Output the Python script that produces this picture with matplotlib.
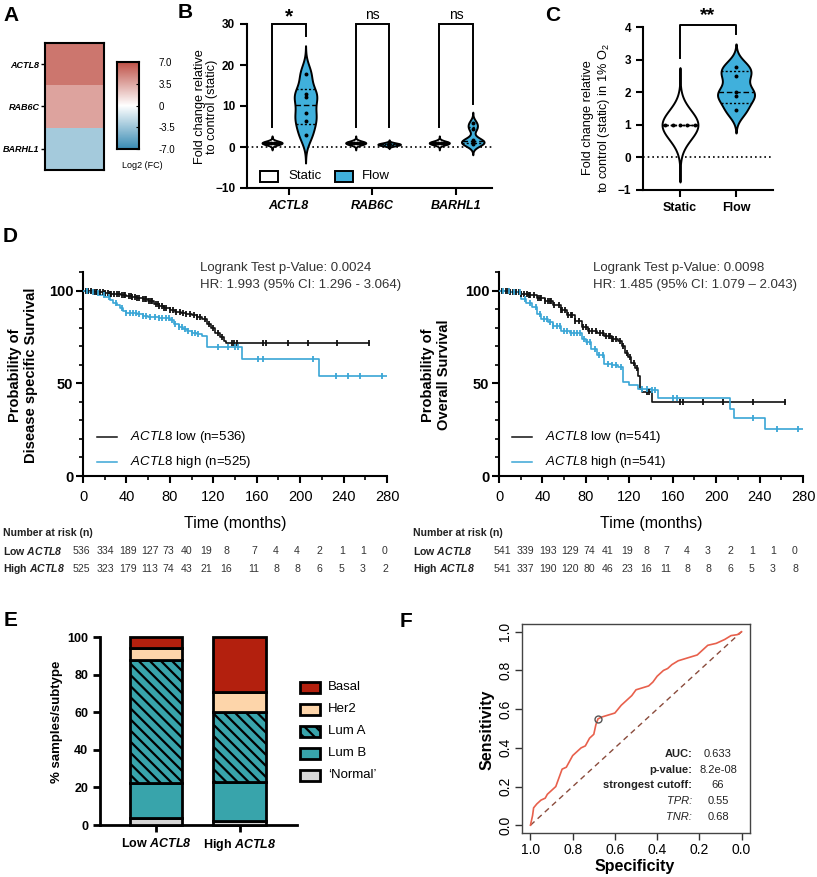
import numpy as np
import matplotlib
matplotlib.use('Agg')
import matplotlib.pyplot as plt
from matplotlib.colors import LinearSegmentedColormap
from matplotlib.patches import Rectangle
from matplotlib.lines import Line2D
from matplotlib.ticker import MultipleLocator, FixedLocator

plt.rcParams['font.family'] = ['Liberation Sans', 'DejaVu Sans']
plt.rcParams['mathtext.fontset'] = 'custom'
plt.rcParams['mathtext.rm'] = 'Liberation Sans'
plt.rcParams['mathtext.it'] = 'Liberation Sans:italic'
plt.rcParams['mathtext.bf'] = 'Liberation Sans:bold'
plt.rcParams['mathtext.bfit'] = 'Liberation Sans:italic:bold'
plt.rcParams['hatch.linewidth'] = 1.6

# ---------------- DATA ----------------
# A: heatmap
heat_genes = ['ACTL8', 'RAB6C', 'BARHL1']
heat_log2fc = [5.5, 3.7, -3.2]
cbar_ticks = [7.0, 3.5, 0.0, -3.5, -7.0]
cbar_labels = ['7.0', '3.5', '0', '-3.5', '-7.0']

# B: violin fold change
b_genes = ['ACTL8', 'RAB6C', 'BARHL1']
b_static_actl8 = [1.0, 1.0, 1.0, 1.0, 1.0, 1.0]
b_static_rab6c = [1.0, 1.0, 1.0, 1.0, 1.0, 1.0]
b_static_barhl1 = [1.0, 1.0, 1.0, 1.0, 1.0, 1.0]
b_flow_actl8 = [3.0, 6.4, 8.3, 12.3, 12.9, 17.8]
b_flow_rab6c = [0.35, 0.5, 0.6, 0.7, 0.8, 1.0]
b_flow_barhl1 = [0.8, 1.0, 1.3, 1.7, 4.5, 5.8]
b_sig = ['*', 'ns', 'ns']

# C: violin hypoxia
c_groups = ['Static', 'Flow']
c_static = [1.0, 1.0, 1.0, 1.0, 1.0]
c_flow = [1.45, 1.88, 2.0, 2.5, 2.78]
c_sig = '**'

# D: Kaplan-Meier (disease specific survival)
dss_low_t = [0, 5, 10, 15, 20, 25, 30, 35, 40, 45, 50, 55, 60, 65, 70, 75, 80, 85, 90, 95,
             100, 105, 110, 114, 118, 122, 126, 130, 132, 263]
dss_low_s = [100, 99.7, 99.3, 99, 98.7, 98.4, 98, 97.6, 97.2, 96.7, 96, 95.3, 94.5, 93, 91.5,
             90.5, 89.5, 88.5, 88, 87.2, 86.8, 86, 84.8, 82, 80, 77, 75, 73, 71.5, 71.5]
dss_low_cens = [3, 5, 7, 10, 12, 13, 16, 18, 20, 23, 25, 26, 29, 31, 33, 36, 38, 39, 42, 44,
                45, 48, 50, 52, 55, 57, 58, 61, 63, 64, 67, 69, 70, 73, 75, 76, 80, 83, 86,
                89, 92, 95, 99, 102, 105, 108, 112, 116, 120, 124, 128, 137, 139.4, 141.5,
                166, 169, 189, 207, 233.6, 263]
dss_high_t = [0, 5, 10, 15, 20, 25, 28, 31, 34, 37, 40, 50, 55, 60, 70, 80, 84, 88, 92, 96,
              100, 105, 110, 114.5, 146.5, 217, 280]
dss_high_s = [100, 99.3, 98.5, 97.5, 96.3, 95, 93.5, 92, 90.5, 89, 88, 87.5, 86.5, 85.5, 85,
              84, 82, 80.5, 79.5, 78, 77, 76.5, 75.5, 69.5, 63, 54, 54]
dss_high_cens = [4, 9, 14, 19, 24, 30, 36, 40, 43, 46, 49, 52, 55, 58, 62, 66, 70, 73, 76, 79,
                 82, 85, 88, 91, 94, 97, 100, 103, 106, 124.6, 133.9, 140, 143, 161.5, 165.5,
                 212.1, 233, 244.4, 255, 275]

# D: Kaplan-Meier (overall survival)
os_low_t = [0, 10, 20, 27, 35, 42, 50, 57, 63, 70, 76, 82, 90, 97, 104, 110, 113, 116, 119,
            122, 125, 128, 130, 132, 140.6, 263]
os_low_s = [100, 99, 98.2, 97.8, 96, 94.2, 92, 89.7, 87, 83.4, 80.5, 78, 77, 75.3, 74, 72.6,
            70, 66.5, 64, 61, 58, 54, 47, 45.4, 40, 40]
os_low_cens = [3, 6, 8, 10, 13, 16, 18, 20, 23, 26, 28, 29, 32, 36, 38, 39, 42, 45, 47, 48,
               51, 55, 57, 58, 61, 64, 66, 67, 70, 74, 77, 80, 83, 86, 89, 93, 96, 99, 101,
               102, 104, 105, 108, 111, 114, 118, 121, 124, 127, 136, 138, 166.7, 169.8,
               188.2, 206.6, 234.2, 263.4]
os_high_t = [0, 10, 20, 25, 30, 35, 39, 45, 50, 57, 65, 76, 80, 85, 90, 97, 104, 110, 114.5,
             120, 128, 140, 146.7, 212.7, 216.7, 245, 280]
os_high_s = [100, 99, 95.5, 93.5, 91, 87.5, 84.5, 83, 81, 78.4, 77, 74, 72, 68.7, 65, 60.6,
             60, 58.6, 50.5, 49, 47, 46.5, 42, 36, 31.5, 25.4, 25.4]
os_high_cens = [4, 9, 14, 19, 24, 29, 34, 38, 41, 44, 47, 50, 53, 56, 60, 63, 66, 69, 72, 75,
                78, 81, 84, 88, 92, 96, 100, 104, 108, 112, 131.4, 136, 140.6, 143.7, 160.6,
                163.6, 234.2, 255.7, 275.7]

km_xticks = [0, 40, 80, 120, 160, 200, 240, 280]
dss_stats = ['Logrank Test p-Value: 0.0024', 'HR: 1.993 (95% CI: 1.296 - 3.064)']
os_stats = ['Logrank Test p-Value: 0.0098', 'HR: 1.485 (95% CI: 1.079 \u2013 2.043)']
dss_legend = [r'$\mathit{ACTL8}$ low (n=536)', r'$\mathit{ACTL8}$ high (n=525)']
os_legend = [r'$\mathit{ACTL8}$ low (n=541)', r'$\mathit{ACTL8}$ high (n=541)']

risk_dss_low = [536, 334, 189, 127, 73, 40, 19, 8, 7, 4, 4, 2, 1, 1, 0]
risk_dss_high = [525, 323, 179, 113, 74, 43, 21, 16, 11, 8, 8, 6, 5, 3, 2]
risk_os_low = [541, 339, 193, 129, 74, 41, 19, 8, 7, 4, 3, 2, 1, 1, 0]
risk_os_high = [541, 337, 190, 120, 80, 46, 23, 16, 11, 8, 8, 6, 5, 3, 8]

# E: subtype composition (%)
e_groups = [r'Low $\mathbfit{ACTL8}$', r'High $\mathbfit{ACTL8}$']
e_subtypes = ['Basal', 'Her2', 'Lum A', 'Lum B', '\u2018Normal\u2019']
e_normal = [3.7, 2.3]
e_lumb = [18.5, 20.8]
e_luma = [65.4, 37.1]
e_her2 = [6.3, 10.7]
e_basal = [6.1, 29.1]

# F: ROC curve
roc_spec = [1.0, 0.99, 0.985, 0.97, 0.95, 0.93, 0.92, 0.90, 0.88, 0.87, 0.86, 0.85, 0.83,
            0.82, 0.80, 0.78, 0.76, 0.74, 0.72, 0.70, 0.69, 0.68, 0.66, 0.63, 0.60, 0.57,
            0.54, 0.52, 0.50, 0.47, 0.44, 0.42, 0.40, 0.37, 0.35, 0.33, 0.30, 0.27, 0.24,
            0.21, 0.18, 0.16, 0.12, 0.08, 0.05, 0.02, 0.0]
roc_sens = [0.0, 0.05, 0.09, 0.11, 0.13, 0.14, 0.16, 0.18, 0.20, 0.23, 0.26, 0.29, 0.30,
            0.32, 0.36, 0.38, 0.40, 0.41, 0.45, 0.47, 0.52, 0.55, 0.56, 0.57, 0.58, 0.62,
            0.65, 0.67, 0.70, 0.71, 0.72, 0.74, 0.77, 0.80, 0.81, 0.83, 0.85, 0.86, 0.87,
            0.88, 0.91, 0.93, 0.94, 0.96, 0.98, 0.985, 1.0]
roc_cut = (0.68, 0.55)
roc_labels = ['AUC:', 'p-value:', 'strongest cutoff:', 'TPR:', 'TNR:']
roc_values = ['0.633', '8.2e-08', '66', '0.55', '0.68']

# ---------------- FIGURE ----------------
W, H = 817, 877
fig = plt.figure(figsize=(W / 100, H / 100), dpi=100)


def axpx(l, t, r, b):
    return fig.add_axes([l / W, 1 - b / H, (r - l) / W, (b - t) / H])


def ftext(x, y, s, **kw):
    return fig.text(x / W, 1 - y / H, s, **kw)


def fline(x1, y1, x2, y2, **kw):
    fig.add_artist(Line2D([x1 / W, x2 / W], [1 - y1 / H, 1 - y2 / H],
                          transform=fig.transFigure, **kw))


def frect(x, y, w, h, **kw):
    fig.add_artist(Rectangle((x / W, 1 - (y + h) / H), w / W, h / H,
                             transform=fig.transFigure, **kw))


BLUE = '#40b0dc'
KMBLUE = '#3aa6d6'

# panel letters
for lab, x, y in [('A', 3, 6), ('B', 178, 3), ('C', 545, 6), ('D', 3, 227), ('E', 4, 611),
                  ('F', 400, 612)]:
    ftext(x, y, lab, fontsize=15, fontweight='bold', ha='left', va='top')

# ---- A ----
cmap = LinearSegmentedColormap.from_list('rb', ['#3a8cb4', '#ffffff', '#bf5248'])
axA = axpx(45, 43, 104, 170)
axA.imshow(np.array(heat_log2fc).reshape(-1, 1), cmap=cmap, vmin=-7, vmax=7, aspect='auto')
axA.set_xticks([])
axA.set_yticks(range(len(heat_genes)))
axA.set_yticklabels(heat_genes, fontsize=6.5, fontweight='bold', fontstyle='italic')
axA.tick_params(axis='y', length=3, width=1, pad=1)
for s in axA.spines.values():
    s.set_linewidth(1.5)
axCB = axpx(117, 62, 139, 149)
grad = np.linspace(7, -7, 200).reshape(-1, 1)
axCB.imshow(grad, cmap=cmap, vmin=-7, vmax=7, aspect='auto', extent=[0, 1, -7, 7])
axCB.set_ylim(-7, 7)
axCB.set_xticks([])
axCB.yaxis.tick_right()
axCB.set_yticks(cbar_ticks)
axCB.set_yticklabels(cbar_labels, fontsize=7)
axCB.tick_params(axis='y', length=2, width=0.8, pad=14, direction='in')
for s in axCB.spines.values():
    s.set_linewidth(1.5)
ftext(142, 165, 'Log2 (FC)', fontsize=6.5, ha='center', va='center')


# ---- violin helper ----
def violin(ax, x, vals, bw, cut, halfw, face, dot_step):
    vals = np.asarray(vals, float)
    ys = np.linspace(vals.min() - cut * bw, vals.max() + cut * bw, 400)
    dens = np.exp(-0.5 * ((ys[:, None] - vals[None, :]) / bw) ** 2).sum(axis=1)
    w = dens / dens.max() * halfw
    ax.fill_betweenx(ys, x - w, x + w, facecolor=face, edgecolor='black', lw=1.4, zorder=3)
    q1, med, q3 = np.percentile(vals, [25, 50, 75], method='weibull')
    for q, ls in [(q1, (0, (1.5, 1.5))), (q3, (0, (1.5, 1.5))), (med, (0, (4, 2)))]:
        wq = np.interp(q, ys, w)
        ax.plot([x - wq, x + wq], [q, q], color='black', ls=ls, lw=1.0, zorder=4)
    uniq, counts = np.unique(np.round(vals, 3), return_counts=True)
    for u, n in zip(uniq, counts):
        offs = (np.arange(n) - (n - 1) / 2) * dot_step
        ax.scatter(x + offs, np.full(n, u), s=8, color='black', zorder=5, linewidths=0)
    return ys.max()


def style_prism(ax, lw=1.5):
    for s in ['top', 'right']:
        ax.spines[s].set_visible(False)
    for s in ['left', 'bottom']:
        ax.spines[s].set_linewidth(lw)
    ax.tick_params(length=5, width=lw, direction='out')


# ---- B ----
axB = axpx(247, 24, 492, 188)
style_prism(axB)
axB.set_xlim(-0.5, 2.43)
axB.set_ylim(-10, 30)
axB.axhline(0, color='black', ls=(0, (1, 1.8)), lw=1.2, zorder=1)
statics = [b_static_actl8, b_static_rab6c, b_static_barhl1]
flows = [b_flow_actl8, b_flow_rab6c, b_flow_barhl1]
flow_bw = [2.3, 0.25, 0.9]
leg_end = [(4.9, 27.0), (4.9, 4.9), (4.9, 10.5)]
for i in range(3):
    violin(axB, i - 0.2, statics[i], 0.45, 3.8, 0.12, 'white', 0.035)
    violin(axB, i + 0.2, flows[i], flow_bw[i], 3.0, 0.135, BLUE, 0.035)
    l, r = leg_end[i]
    axB.plot([i - 0.2, i - 0.2, i + 0.2, i + 0.2], [l, 30, 30, r], color='black', lw=1.4,
             clip_on=False, solid_joinstyle='miter')
    if b_sig[i] == '*':
        axB.text(i, 29.4, b_sig[i], ha='center', va='bottom', fontsize=15, fontweight='bold')
    else:
        axB.text(i, 30.6, b_sig[i], ha='center', va='bottom', fontsize=10)
axB.set_yticks([-10, 0, 10, 20, 30])
axB.set_xticks(range(3))
axB.set_xticklabels(b_genes, fontsize=9, fontweight='bold', fontstyle='italic')
for t in axB.get_yticklabels():
    t.set_fontweight('bold')
    t.set_fontsize(8.5)
ftext(206, 107, 'Fold change relative\nto control (static)', rotation=90, ha='center',
      va='center', fontsize=9.2, linespacing=1.1)
frect(260, 171, 18, 11, facecolor='white', edgecolor='black', lw=1.4)
ftext(288, 176, 'Static', fontsize=9.5, va='center')
frect(335, 171, 18, 11, facecolor=BLUE, edgecolor='black', lw=1.4)
ftext(362, 176, 'Flow', fontsize=9.5, va='center')

# ---- C ----
axC = axpx(643, 27, 773, 190)
style_prism(axC)
axC.set_xlim(-0.66, 1.66)
axC.set_ylim(-1, 4)
axC.axhline(0, color='black', ls=(0, (1, 1.8)), lw=1.2, zorder=1)
violin(axC, 0, c_static, 0.45, 3.9, 0.32, 'white', 0.13)
violin(axC, 1, c_flow, 0.25, 2.8, 0.33, BLUE, 0.13)
axC.plot([0, 0, 1, 1], [3.05, 4.05, 4.05, 3.8], color='black', lw=1.4, clip_on=False)
axC.text(0.5, 4.08, c_sig, ha='center', va='bottom', fontsize=14, fontweight='bold')
axC.set_yticks([-1, 0, 1, 2, 3, 4])
axC.set_xticks([0, 1])
axC.set_xticklabels(c_groups, fontsize=9, fontweight='bold')
for t in axC.get_yticklabels():
    t.set_fontweight('bold')
    t.set_fontsize(8.5)
ftext(597, 118, 'Fold change relative\nto control (static) in 1% O$_2$', rotation=90,
      ha='center', va='center', fontsize=9.2, linespacing=1.1)


# ---- D ----
def km(ax, lt, ls_, lc, ht, hs, hc):
    for t, s, c, col in [(lt, ls_, lc, '#111111'), (ht, hs, hc, KMBLUE)]:
        t = np.asarray(t, float)
        s = np.asarray(s, float)
        ax.plot(t, s, drawstyle='steps-post', color=col, lw=1.2, zorder=3)
        c = np.asarray(c, float)
        idx = np.clip(np.searchsorted(t, c, side='right') - 1, 0, len(s) - 1)
        ax.plot(c, s[idx], ls='none', marker='|', ms=4.5, mew=1.3, color=col, zorder=4)
    for sp in ['top', 'right']:
        ax.spines[sp].set_visible(False)
    for sp in ['left', 'bottom']:
        ax.spines[sp].set_linewidth(1.5)
    ax.set_xlim(0, 280)
    ax.set_ylim(0, 110)
    ax.set_yticks([0, 50, 100])
    ax.yaxis.set_minor_locator(FixedLocator([10, 20, 30, 40, 60, 70, 80, 90, 110]))
    ax.set_xticks(km_xticks)
    ax.xaxis.set_minor_locator(MultipleLocator(20))
    ax.tick_params(which='major', length=5, width=1.5)
    ax.tick_params(which='minor', length=3, width=1.2)
    ax.tick_params(axis='x', labelsize=10.5, pad=5)
    ax.tick_params(axis='y', labelsize=10.5, pad=2)
    for t in ax.get_yticklabels():
        t.set_fontweight('bold')
    ax.set_xlabel('Time (months)', fontsize=11.5, labelpad=9)


axD1 = axpx(83, 272, 387, 476)
km(axD1, dss_low_t, dss_low_s, dss_low_cens, dss_high_t, dss_high_s, dss_high_cens)
axD2 = axpx(499, 272, 803, 476)
km(axD2, os_low_t, os_low_s, os_low_cens, os_high_t, os_high_s, os_high_cens)

ftext(200, 268, dss_stats[0], fontsize=9.5, color='#333333', va='center')
ftext(200, 285, dss_stats[1], fontsize=9.5, color='#333333', va='center')
ftext(593, 268, os_stats[0], fontsize=9.5, color='#333333', va='center')
ftext(593, 285, os_stats[1], fontsize=9.5, color='#333333', va='center')

for x0, labs in [(97, dss_legend), (512, os_legend)]:
    fline(x0, 437, x0 + 20, 437, color='#111111', lw=1.1)
    fline(x0, 462, x0 + 20, 462, color=KMBLUE, lw=1.1)
    ftext(x0 + 33, 437, labs[0], fontsize=9.5, va='center')
    ftext(x0 + 33, 462, labs[1], fontsize=9.5, va='center')

ftext(23, 375, 'Probability of\nDisease specific Survival', rotation=90, ha='center',
      va='center', fontsize=10.5, fontweight='bold', linespacing=1.15)
ftext(436, 375, 'Probability of\nOverall Survival', rotation=90, ha='center',
      va='center', fontsize=10.5, fontweight='bold', linespacing=1.15)

# number at risk tables
cols_left = [81, 105, 128, 150, 168, 187, 206, 226, 254, 276, 297, 319, 342, 363, 385]
cols_right = [502, 525, 548, 570, 589, 608, 627, 646, 666, 687, 708, 730, 752, 773, 795]
RS = 7.6
for x0, cols, low, high in [(3, cols_left, risk_dss_low, risk_dss_high),
                            (413, cols_right, risk_os_low, risk_os_high)]:
    ftext(x0, 533, 'Number at risk (n)', fontsize=RS, fontweight='bold', va='center',
          color='#222222')
    ftext(x0, 551, r'Low $\mathbfit{ACTL8}$', fontsize=RS, fontweight='bold', va='center',
          color='#222222')
    ftext(x0, 569, r'High $\mathbfit{ACTL8}$', fontsize=RS, fontweight='bold', va='center',
          color='#222222')
    for cx, a, b in zip(cols, low, high):
        ftext(cx, 551, str(a), fontsize=RS, ha='center', va='center', color='#333333')
        ftext(cx, 569, str(b), fontsize=RS, ha='center', va='center', color='#333333')

# ---- E ----
axE = axpx(100, 637, 297, 825)
style_prism(axE, lw=2)
axE.set_xlim(-0.667, 1.68)
axE.set_ylim(0, 100)
layers = [(e_normal, '#d6d6d6', None), (e_lumb, '#38a4ab', None), (e_luma, '#38a4ab', '\\\\\\'),
          (e_her2, '#fdd5aa', None), (e_basal, '#b3200e', None)]
bottom = np.zeros(2)
for vals, col, hatch in layers:
    axE.bar([0, 1], vals, bottom=bottom, width=0.63, color=col, edgecolor='black', lw=2,
            hatch=hatch, clip_on=False, zorder=3)
    bottom += np.array(vals)
axE.set_yticks([0, 20, 40, 60, 80, 100])
axE.set_xticks([0, 1])
axE.set_xticklabels(e_groups, fontsize=9, fontweight='bold')
for t in axE.get_yticklabels():
    t.set_fontweight('bold')
    t.set_fontsize(9)
ftext(57, 722, '% samples/subtype', rotation=90, ha='center', va='center', fontsize=9.5,
      fontweight='bold')
leg_cols = [('#b3200e', None), ('#fdd5aa', None), ('#38a4ab', '\\\\\\'), ('#38a4ab', None),
            ('#d6d6d6', None)]
for k, (lab, (col, hatch)) in enumerate(zip(e_subtypes, leg_cols)):
    y = 687 + k * 22
    frect(300, y - 5.5, 20, 11, facecolor=col, edgecolor='black', lw=2, hatch=hatch)
    ftext(328, y, lab, fontsize=9.5, va='center')

# ---- F ----
axF = axpx(522, 624, 750, 833)
axF.set_xlim(1.04, -0.04)
axF.set_ylim(-0.04, 1.04)
axF.plot([1, 0], [0, 1], ls=(0, (4, 3)), color='#8a4b3c', lw=1)
axF.plot(roc_spec, roc_sens, color='#e8604c', lw=1.2)
axF.plot([roc_cut[0]], [roc_cut[1]], marker='o', mfc='none', mec='#555555', ms=5, mew=1)
ticksF = [1.0, 0.8, 0.6, 0.4, 0.2, 0.0]
axF.set_xticks(ticksF)
axF.set_xticklabels(['%.1f' % v for v in ticksF], fontsize=10)
axF.set_yticks(ticksF[::-1])
axF.set_yticklabels(['%.1f' % v for v in ticksF[::-1]], fontsize=10, rotation=90,
                    va='center')
axF.tick_params(length=5, width=1, color='#333333', pad=2)
for s in axF.spines.values():
    s.set_linewidth(1)
    s.set_color('#444444')
ftext(635, 866, 'Specificity', ha='center', va='center', fontsize=11.5, fontweight='bold')
ftext(487, 730, 'Sensitivity', rotation=90, ha='center', va='center', fontsize=11.5,
      fontweight='bold')
for k, (lab, val) in enumerate(zip(roc_labels, roc_values)):
    y = 754 + k * 15.7
    italic = lab in ('TPR:', 'TNR:')
    ftext(692, y, lab, ha='right', va='center', fontsize=8,
          fontweight='normal' if italic else 'bold',
          fontstyle='italic' if italic else 'normal', color='#222222')
    ftext(718, y, val, ha='center', va='center', fontsize=8, color='#222222')

fig.savefig('out.png', dpi=100)
